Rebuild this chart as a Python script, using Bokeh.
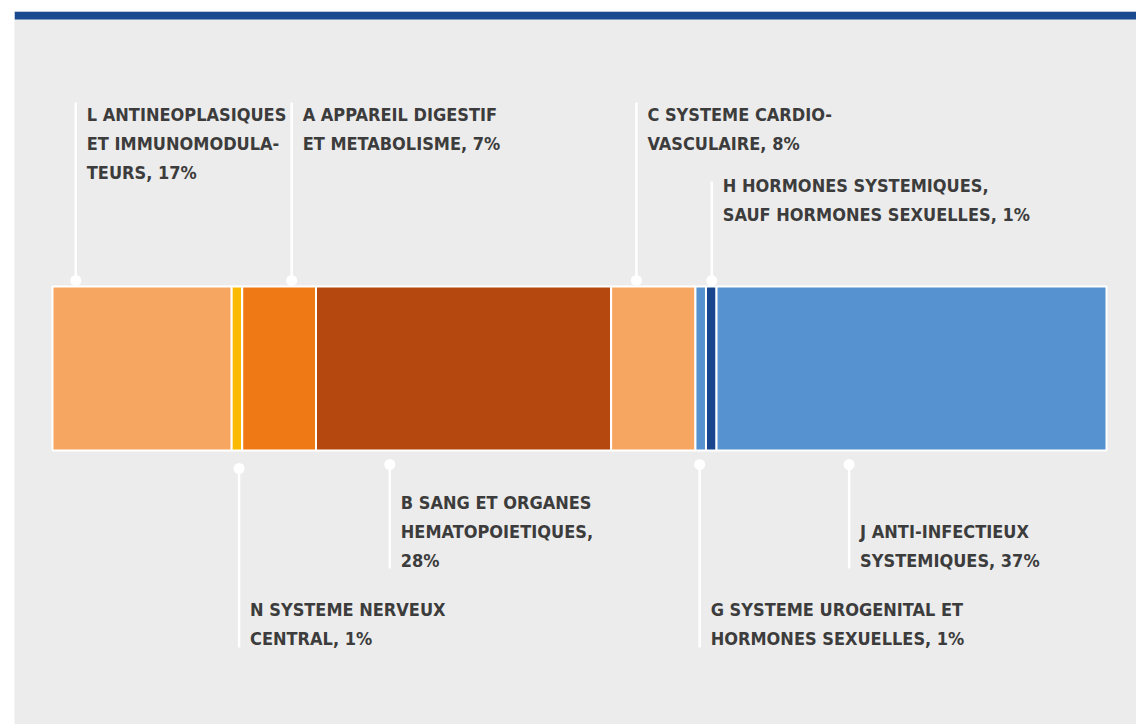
from bokeh.plotting import figure
from bokeh.models import Range1d, ColumnDataSource
from bokeh.core.properties import value
from bokeh.embed import file_html
from bokeh.resources import INLINE

# ---- data ----
codes = ["L", "N", "A", "B", "C", "G", "H", "J"]
shares = [17, 1, 7, 28, 8, 1, 1, 37]
colors = ["#f6a660", "#fbba00", "#ef7a15", "#b5480f", "#f6a660", "#5592cf", "#17468e", "#5592cf"]
labels = [
    ["L ANTINEOPLASIQUES", "ET IMMUNOMODULA-", "TEURS, 17%"],
    ["N SYSTEME NERVEUX", "CENTRAL, 1%"],
    ["A APPAREIL DIGESTIF", "ET METABOLISME, 7%"],
    ["B SANG ET ORGANES", "HEMATOPOIETIQUES,", "28%"],
    ["C SYSTEME CARDIO-", "VASCULAIRE, 8%"],
    ["G SYSTEME UROGENITAL ET", "HORMONES SEXUELLES, 1%"],
    ["H HORMONES SYSTEMIQUES,", "SAUF HORMONES SEXUELLES, 1%"],
    ["J ANTI-INFECTIEUX", "SYSTEMIQUES, 37%"],
]

# ---- layout / style (annotation placement) ----
leader_frac = [0.13, 0.70, 0.67, 0.25, 0.30, 0.40, 0.55, 0.34]
first_baseline = [103, 598, 103, 491, 103, 598, 174, 520]   # frame px from top
leader_end = [91, 636, 91, 557, 91, 636, 170, 557]
dot_y = [269, 457, 269, 453, 269, 453, 269, 453]
LINE_H = 29

W, H = 1136, 724
LEFT, TOP = 14, 11
FW, FH = W - LEFT, H - TOP
PX_PER_PCT = 10.54
X0 = -38 / PX_PER_PCT
X1 = X0 + FW / PX_PER_PCT

p = figure(width=W, height=H, output_backend="svg", toolbar_location=None,
           x_range=Range1d(X0, X1), y_range=Range1d(FH, 0),
           x_axis_type=None, y_axis_type=None,
           min_border=0, min_border_left=LEFT, min_border_top=TOP,
           background_fill_color="#ececec", border_fill_color="white",
           outline_line_color=None)
p.grid.visible = False

# top band
p.quad(left=[X0], right=[X1], top=[0], bottom=[8], fill_color="#1a4a8f", line_color=None)

# stacked bar
starts, ends = [], []
acc = 0
for s in shares:
    starts.append(acc)
    acc += s
    ends.append(acc)
p.quad(left=starts, right=ends, top=275, bottom=439, fill_color=colors,
       line_color="white", line_width=2)

# leaders and labels
lx, ly0, ly1, dx, dy = [], [], [], [], []
tx, ty, tt = [], [], []
for i in range(len(codes)):
    x = starts[i] + leader_frac[i] * shares[i]
    lx.append(x)
    ly0.append(dot_y[i])
    ly1.append(leader_end[i])
    dx.append(x)
    dy.append(dot_y[i])
    for j, line in enumerate(labels[i]):
        tx.append(x + 11 / PX_PER_PCT)
        ty.append(first_baseline[i] + j * LINE_H)
        tt.append(line)

p.segment(x0=lx, y0=ly0, x1=lx, y1=ly1, line_color="white", line_width=2.5)
p.scatter(x=dx, y=dy, size=11, fill_color="white", line_color=None)

src = ColumnDataSource(dict(x=tx, y=ty, text=tt))
p.text(x="x", y="y", text="text", source=src,
       text_font=value("DejaVu Sans Condensed"), text_font_style="bold",
       text_font_size="18px", text_color="#3c3c3c",
       text_baseline="alphabetic", text_align="left")

open("out.html", "w").write(file_html(p, INLINE))
